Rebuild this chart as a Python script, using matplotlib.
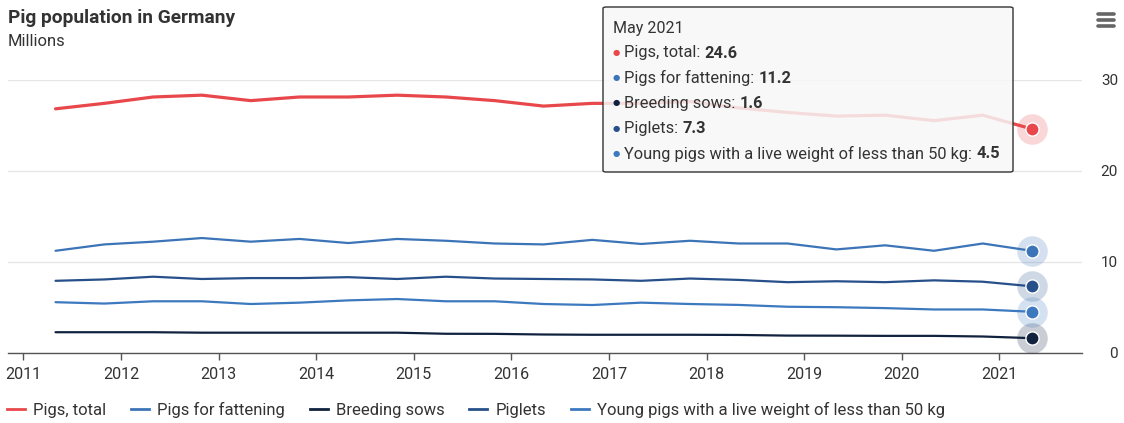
import matplotlib
matplotlib.use("Agg")
import matplotlib.pyplot as plt
from matplotlib.patches import FancyBboxPatch
from matplotlib.lines import Line2D

plt.rcParams['font.family'] = ['Roboto', 'DejaVu Sans']

# ---- data (millions), half-yearly: May & November, May 2011 .. May 2021
periods = [
    "May 2011", "Nov 2011", "May 2012", "Nov 2012", "May 2013", "Nov 2013",
    "May 2014", "Nov 2014", "May 2015", "Nov 2015", "May 2016", "Nov 2016",
    "May 2017", "Nov 2017", "May 2018", "Nov 2018", "May 2019", "Nov 2019",
    "May 2020", "Nov 2020", "May 2021",
]
x_years = [2011.33, 2011.83, 2012.33, 2012.83, 2013.33, 2013.83, 2014.33, 2014.83,
           2015.33, 2015.83, 2016.33, 2016.83, 2017.33, 2017.83, 2018.33, 2018.83,
           2019.33, 2019.83, 2020.33, 2020.83, 2021.33]

pigs_total = [26.8, 27.4, 28.1, 28.3, 27.7, 28.1, 28.1, 28.3, 28.1, 27.7, 27.1,
              27.4, 27.4, 27.6, 26.9, 26.4, 26.0, 26.1, 25.5, 26.1, 24.6]
pigs_fattening = [11.2, 11.9, 12.2, 12.6, 12.2, 12.5, 12.05, 12.5, 12.3, 12.0, 11.9,
                  12.4, 11.95, 12.3, 12.0, 12.0, 11.35, 11.8, 11.2, 12.0, 11.2]
breeding_sows = [2.25, 2.25, 2.25, 2.2, 2.2, 2.2, 2.2, 2.2, 2.08, 2.07, 2.0,
                 1.97, 1.97, 1.97, 1.95, 1.88, 1.87, 1.85, 1.85, 1.78, 1.6]
piglets = [7.9, 8.05, 8.35, 8.1, 8.2, 8.2, 8.3, 8.1, 8.35, 8.15, 8.1,
           8.05, 7.9, 8.15, 8.0, 7.75, 7.85, 7.75, 7.95, 7.8, 7.3]
young_pigs = [5.55, 5.4, 5.65, 5.65, 5.35, 5.5, 5.75, 5.9, 5.65, 5.65, 5.35,
              5.24, 5.5, 5.35, 5.25, 5.05, 5.0, 4.9, 4.75, 4.75, 4.5]

series_names = ["Pigs, total", "Pigs for fattening", "Breeding sows", "Piglets",
                "Young pigs with a live weight of less than 50 kg"]
series_values = [pigs_total, pigs_fattening, breeding_sows, piglets, young_pigs]
series_colors = ["#e8484b", "#3c74b8", "#11223f", "#27508a", "#3d79bf"]
series_widths = [2.3, 1.6, 1.6, 1.6, 1.6]

year_ticks = list(range(2011, 2022))
y_ticks = [0, 10, 20, 30]

W, H = 1124, 423
fig = plt.figure(figsize=(W / 100, H / 100), dpi=100)
ax = fig.add_axes([8 / W, 1 - 352.7 / H, (1082 - 8) / W, (352.7 - 79.7) / H])

for name, vals, col, lw in zip(series_names, series_values, series_colors, series_widths):
    ax.plot(x_years, vals, color=col, lw=lw, label=name, solid_capstyle='round',
            solid_joinstyle='round', zorder=3)
    # hover halo + marker on last point
    ax.plot([x_years[-1]], [vals[-1]], 'o', ms=22, color=col, alpha=0.22,
            mec='none', zorder=4, clip_on=False)
    ax.plot([x_years[-1]], [vals[-1]], 'o', ms=9.5, color=col, mec='white',
            mew=1.0, zorder=5, clip_on=False)

ax.set_xlim(2010.843, 2021.847)
ax.set_ylim(0, 30)
ax.set_xticks(year_ticks)
ax.set_xticklabels([str(y) for y in year_ticks])
ax.set_yticks(y_ticks)
ax.yaxis.tick_right()
for lab in ax.get_yticklabels():
    lab.set_horizontalalignment('right')
ax.tick_params(axis='y', length=0, pad=26, labelsize=11, labelcolor='#333333')
ax.tick_params(axis='x', length=5, width=1, color='#555555', pad=5,
               labelsize=11.6, labelcolor='#333333')
ax.grid(axis='y', color='#e6e6e6', lw=1)
ax.set_axisbelow(True)
for s in ['top', 'left', 'right']:
    ax.spines[s].set_visible(False)
ax.spines['bottom'].set_color('#555555')
ax.spines['bottom'].set_linewidth(1)

# title & subtitle
fig.text(8 / W, 1 - 18 / H, "Pig population in Germany", fontsize=13.8, fontweight='bold',
         color='#333333', va='center', ha='left')
fig.text(8 / W, 1 - 42 / H, "Millions", fontsize=12, color='#333333',
         va='center', ha='left')

# legend
handles = [Line2D([0], [0], color=c, lw=2) for c in series_colors]
fig.legend(handles, series_names, loc='center left', bbox_to_anchor=(0 / W, 1 - 410 / H),
           ncol=5, frameon=False, fontsize=12, handlelength=1.08, handletextpad=0.48,
           columnspacing=1.5, labelcolor='#333333', borderaxespad=0)

# tooltip
x0, y0, x1, y1 = 603, 7, 1013, 172
box = FancyBboxPatch((x0 / W, 1 - y1 / H), (x1 - x0) / W, (y1 - y0) / H,
                     boxstyle="round,pad=0,rounding_size=0.003",
                     transform=fig.transFigure, facecolor='#f7f7f7', alpha=0.85,
                     edgecolor='none', zorder=10)
fig.add_artist(box)
box2 = FancyBboxPatch((x0 / W, 1 - y1 / H), (x1 - x0) / W, (y1 - y0) / H,
                      boxstyle="round,pad=0,rounding_size=0.003",
                      transform=fig.transFigure, facecolor='none',
                      edgecolor='#333333', lw=1, zorder=11)
fig.add_artist(box2)
fig.text(613 / W, 1 - 28 / H, periods[-1], fontsize=11.5, color='#333333',
         va='center', ha='left', zorder=12)
for i, (name, vals, col) in enumerate(zip(series_names, series_values, series_colors)):
    yy = 1 - (53 + 25.2 * i) / H
    fig.text(613 / W, yy, "\u25CF", fontsize=6, color=col, va='center', ha='left',
             zorder=12)
    t = fig.text(624 / W, yy, f"{name}: ", fontsize=11.8, color='#333333',
                 va='center', ha='left', zorder=12)
    fig.canvas.draw()
    bb = t.get_window_extent()
    fig.text(bb.x1 / W, yy, f"{vals[-1]:.1f}", fontsize=11.8, fontweight='bold',
             color='#333333', va='center', ha='left', zorder=12)

# menu icon
for yy in [14, 20, 26]:
    fig.add_artist(Line2D([1098 / W, 1114 / W], [1 - yy / H, 1 - yy / H],
                          transform=fig.transFigure, color='#666666', lw=2.6,
                          solid_capstyle='round'))

fig.savefig("out.png", dpi=100)
